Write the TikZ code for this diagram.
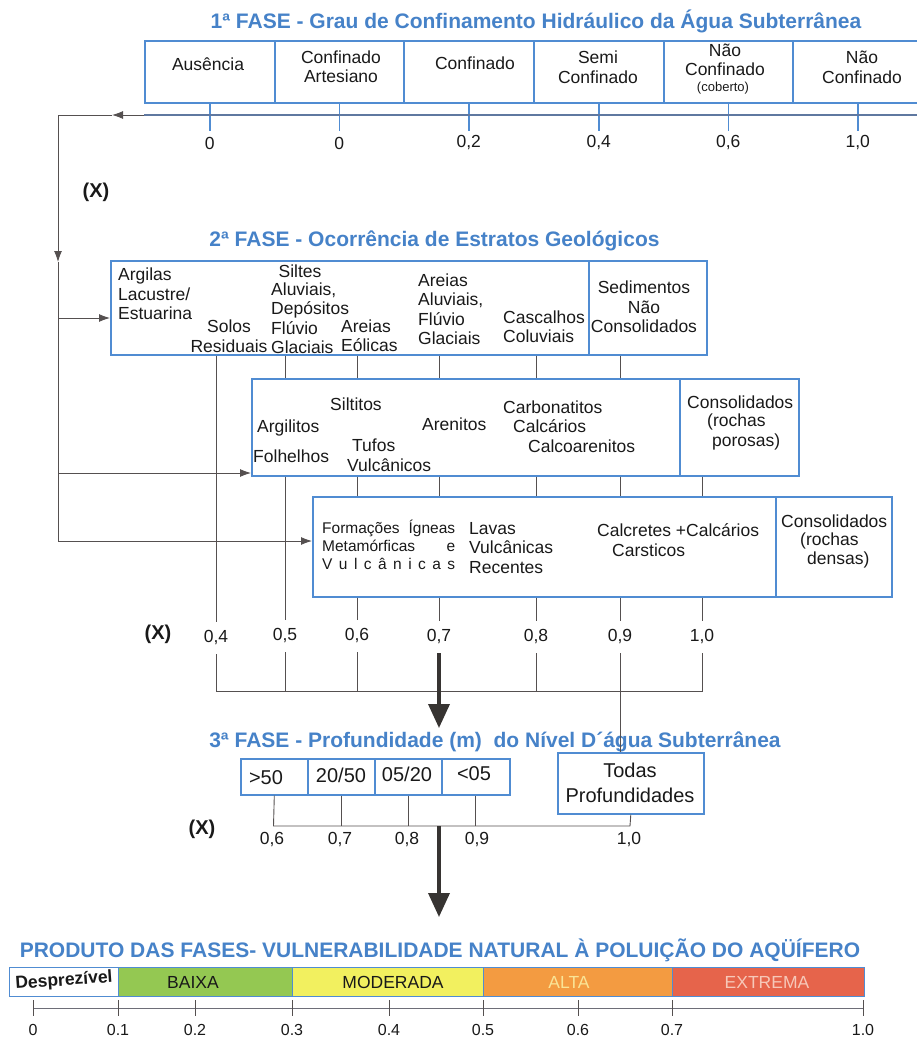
\documentclass[tikz,border=0pt]{standalone}
\usepackage{fontspec}
\setmainfont{Liberation Sans}
\usetikzlibrary{arrows.meta}
\definecolor{tblue}{RGB}{70,130,200}
\definecolor{bblue}{RGB}{80,140,210}
\definecolor{cgray}{RGB}{85,80,80}
\definecolor{dgray}{RGB}{55,52,50}
\definecolor{txtc}{RGB}{25,25,25}
\definecolor{gbaixa}{RGB}{148,200,82}
\definecolor{ymod}{RGB}{242,240,95}
\definecolor{oalta}{RGB}{243,155,65}
\definecolor{rext}{RGB}{230,100,75}
\definecolor{altat}{RGB}{250,228,150}
\definecolor{extt}{RGB}{246,200,185}
\definecolor{axisc}{RGB}{110,110,120}
\definecolor{hlinec}{RGB}{95,120,160}
\newcommand\ftitle{\fontsize{21}{24}\bfseries\selectfont}
\newcommand\fbody{\fontsize{17.5}{19.5}\selectfont}
\newcommand\fsmallb{\fontsize{13}{15}\selectfont}
\newcommand\fform{\fontsize{15.5}{18}\selectfont}
\newcommand\fdepth{\fontsize{20}{25}\selectfont}
\newcommand\fnum{\fontsize{17.5}{20}\selectfont}
\newcommand\faxis{\fontsize{16}{18}\selectfont}
\newcommand\fxlab{\fontsize{20}{22}\bfseries\selectfont}
\newcommand\fbar{\fontsize{17.5}{20}\selectfont}
\begin{document}
\begin{tikzpicture}[x=1pt,y=-1pt,
  every node/.style={inner sep=0pt, text=txtc},
  box/.style={draw=bblue, line width=1.6pt, inner sep=0pt, anchor=north west},
  barseg/.style={draw=bblue, line width=1.1pt, inner sep=0pt, anchor=north west, minimum height=29},
  conn/.style={draw=cgray, line width=0.9pt},
  tickone/.style={draw=bblue, line width=1.4pt},
  ttl/.style={font=\ftitle, text=tblue},
  body/.style={font=\fbody, align=center},
  lft/.style={font=\fbody, anchor=west, align=left},
  numone/.style={font=\fnum, minimum height=24},
  numtwo/.style={font=\fnum, minimum height=32},
  numthree/.style={font=\fnum},
  xlab/.style={font=\fxlab},
  bigarrow/.style={draw=dgray, line width=3.6pt, -{Triangle[length=24pt,width=21pt]}},
  smallarrow/.style={conn, -{Latex[length=11pt,width=8pt]}},
]
\useasboundingbox (0,0) rectangle (917,1039);

% ---------------- 1st phase ----------------
\node[ttl] (T1) at (536,21) {1ª FASE - Grau de Confinamento Hidráulico da Água Subterrânea};
\node[box, minimum width=130, minimum height=62] (c1) at (144,40) {};
\node[box, minimum width=129, minimum height=62] (c2) at (274,40) {};
\node[box, minimum width=130, minimum height=62] (c3) at (403,40) {};
\node[box, minimum width=130, minimum height=62] (c4) at (533,40) {};
\node[box, minimum width=129, minimum height=62] (c5) at (663,40) {};
\node[box, minimum width=130, minimum height=62] (c6) at (792,40) {};
\node[body] (a1) at (208,64) {Ausência};
\node[body] (a2) at (341,66.5) {Confinado\\Artesiano};
\node[body] (a3) at (475,63.5) {Confinado};
\node[body] (a4) at (598,67) {Semi\\Confinado};
\node[body] (a5) at (725,60) {Não\\Confinado};
\node[font=\fsmallb] (a5b) at (723,88) {(coberto)};
\node[body] (a6) at (862,67.5) {Não\\Confinado};

\node[numone] (n1) at (c1.center |- 0,143) {0};
\node[numone] (n2) at (c2.center |- 0,143) {0};
\node[numone] (n3) at (c3.center |- 0,143) {0,2};
\node[numone] (n4) at (c4.center |- 0,143) {0,4};
\node[numone] (n5) at (c5.center |- 0,143) {0,6};
\node[numone] (n6) at (c6.center |- 0,143) {1,0};
\foreach \c/\n in {c1/n1,c2/n2,c3/n3,c4/n4,c5/n5,c6/n6}
  \draw[tickone] (\c.south) -- (\n.north);

\coordinate (hR) at (922,115);
\coordinate (hL) at (144,115);
\coordinate (aL) at (112,115);
\coordinate (k0) at (58,115);
\coordinate (kD) at (58,262);
\coordinate (j1) at (58,318);
\coordinate (j2) at (58,473);
\coordinate (j3) at (58,541);
\draw[draw=hlinec, line width=1.1pt] (hR) -- (hL);
\draw[smallarrow] (hL) -- (aL);
\draw[conn] (aL) -- (k0);
\draw[smallarrow] (k0) -- (kD);
\draw[conn] (kD) -- (j3);

\node[xlab] (X1) at (96,192) {(X)};

% ---------------- 2nd phase ----------------
\node[ttl] (T2) at (434.5,241) {2ª FASE - Ocorrência de Estratos Geológicos};
\node[box, minimum width=478, minimum height=94] (b2a) at (110,260) {};
\node[box, minimum width=118, minimum height=94] (b2aS) at (588,260) {};
\node[box, minimum width=428, minimum height=97] (b2b) at (251,378) {};
\node[box, minimum width=119, minimum height=97] (b2bS) at (679,378) {};
\node[box, minimum width=463, minimum height=100] (b2c) at (312,496) {};
\node[box, minimum width=116, minimum height=100] (b2cS) at (775,496) {};

\draw[smallarrow] (j1) -- (j1 -| b2a.west);
\draw[smallarrow] (j2) -- (j2 -| b2b.west);
\draw[smallarrow] (j3) -- (j3 -| b2c.west);

% texts box 2a
\node[lft] (e1) at (118,294) {Argilas\\Lacustre/\\Estuarina};
\node[body] (e2) at (229,336) {Solos\\Residuais};
\node[body] (e3a) at (300,271) {Siltes};
\node[lft] (e3) at (271,318) {Aluviais,\\Depósitos\\Flúvio\\Glaciais};
\node[lft] (e4) at (341,335.5) {Areias\\Eólicas};
\node[lft] (e5) at (418,309) {Areias\\Aluviais,\\Flúvio\\Glaciais};
\node[lft] (e6) at (503,326.5) {Cascalhos\\Coluviais};
\node[body] (e7) at (644,307) {Sedimentos\\Não\\Consolidados};

% texts box 2b
\node[lft] (f1) at (330,404) {Siltitos};
\node[lft] (f2) at (257,428) {Argilitos};
\node[lft] (f3) at (253,456) {Folhelhos};
\node[lft] (f4) at (352,445) {Tufos};
\node[lft] (f5) at (347,465) {Vulcânicos};
\node[lft] (f6) at (422,424) {Arenitos};
\node[lft] (f7) at (503,407) {Carbonatitos};
\node[lft] (f8) at (513,426) {Calcários};
\node[lft] (f9) at (528,446) {Calcoarenitos};
\node[lft] (f10) at (687,402) {Consolidados};
\node[lft] (f11) at (707,422) {(rochas};
\node[lft] (f12) at (712,442) {porosas)};

% texts box 2c
\node[font=\fform, anchor=west, align=left] (g1) at (322,545)
  {\makebox[133pt][s]{Formações Ígneas}\\\makebox[133pt][s]{Metamórficas e}\\\makebox[133pt][s]{V u l c â n i c a s}};
\node[lft] (g2) at (469,548) {Lavas\\Vulcânicas\\Recentes};
\node[lft] (g3) at (597,530) {Calcretes +Calcários};
\node[lft] (g4) at (612,550) {Carsticos};
\node[lft] (g5) at (781,521) {Consolidados};
\node[lft] (g6) at (800,541) {(rochas};
\node[lft] (g7) at (807,560) {densas)};

% values 2nd phase
\node[xlab] (X2) at (158,634) {(X)};
\node[numtwo] (L04) at (216,638) {0,4};
\node[numtwo] (L05) at (285,636) {0,5};
\node[numtwo] (L06) at (357,636) {0,6};
\node[numtwo] (L07) at (439,637) {0,7};
\node[numtwo] (L08) at (536,637) {0,8};
\node[numtwo] (L09) at (620,637) {0,9};
\node[numtwo] (L10) at (702,637) {1,0};
\coordinate (hb1) at (216,691);
\coordinate (hb2) at (702,691);

\draw[conn] (L04 |- b2a.south) -- (L04.north);
\draw[conn] (L04.south) -- (hb1) -- (hb2) -- (L10.south);
\draw[conn] (L05 |- b2a.south) -- (L05 |- b2b.north);
\draw[conn] (L05 |- b2b.south) -- (L05.north);
\draw[conn] (L05.south) -- (L05 |- hb1);
\foreach \L in {L06,L07,L08,L09}{
  \draw[conn] (\L |- b2a.south) -- (\L |- b2b.north);
  \draw[conn] (\L |- b2b.south) -- (\L |- b2c.north);
  \draw[conn] (\L |- b2c.south) -- (\L.north);
}
\draw[conn] (L10 |- b2b.south) -- (L10 |- b2c.north);
\draw[conn] (L10 |- b2c.south) -- (L10.north);
\draw[conn] (L06.south) -- (L06 |- hb1);
\draw[conn] (L08.south) -- (L08 |- hb1);

% ---------------- 3rd phase ----------------
\coordinate (A1e) at (439,728);
\draw[bigarrow] (L07.south) -- (A1e);
\node[ttl] (T3) at (495,742) {3ª FASE - Profundidade (m)\ \ do Nível D´água Subterrânea};
\node[box, minimum width=67, minimum height=36] (d1) at (240,758) {};
\node[box, minimum width=67, minimum height=36] (d2) at (307,758) {};
\node[box, minimum width=67, minimum height=36] (d3) at (374,758) {};
\node[box, minimum width=68, minimum height=36] (d4) at (441,758) {};
\node[box, minimum width=146, minimum height=61] (b3T) at (557,752) {};
\node[font=\fdepth] (d1t) at (266,778) {>50};
\node[font=\fdepth] (d2t) at (341,775) {20/50};
\node[font=\fdepth] (d3t) at (407,774) {05/20};
\node[font=\fdepth] (d4t) at (474,774) {<05};
\node[font=\fdepth, align=center] (b3Tt) at (630,782.5) {Todas\\Profundidades};
\draw[conn] (L09.south) -- (L09 |- b3T.north);

\coordinate (h3a) at (273.5,826);
\coordinate (h3b) at (630,826);
\draw[conn] (d1.south) -- (h3a) -- (h3b) -- (b3T.south);
\draw[conn] (d2.south) -- (d2.south |- h3a);
\draw[conn] (d3.south) -- (d3.south |- h3a);
\draw[conn] (d4.south) -- (d4.south |- h3a);
\node[xlab] (X3) at (202,829) {(X)};
\node[numthree] (M06) at (272,839) {0,6};
\node[numthree] (M07) at (340,839) {0,7};
\node[numthree] (M08) at (407,839) {0,8};
\node[numthree] (M09) at (477,839) {0,9};
\node[numthree] (M10) at (629,839) {1,0};

\coordinate (A2s) at (439,826);
\coordinate (A2e) at (439,917);
\draw[bigarrow] (A2s) -- (A2e);

% ---------------- product ----------------
\node[ttl] (T4) at (440,950) {PRODUTO DAS FASES- VULNERABILIDADE NATURAL À POLUIÇÃO DO AQÜÍFERO};
\node[barseg, fill=white, minimum width=109] (s0) at (9,967) {};
\node[barseg, fill=gbaixa, minimum width=174] (s1) at (118,967) {};
\node[barseg, fill=ymod, minimum width=191] (s2) at (292,967) {};
\node[barseg, fill=oalta, minimum width=189] (s3) at (483,967) {};
\node[barseg, fill=rext, minimum width=192] (s4) at (672,967) {};
\node[font=\fbar\bfseries, rotate=4] (s0t) at (64,981) {Desprezível};
\node[font=\fbar] (s1t) at (193,982) {BAIXA};
\node[font=\fbar] (s2t) at (393,982) {MODERADA};
\node[font=\fbar, text=altat] (s3t) at (569,982) {ALTA};
\node[font=\fbar, text=extt] (s4t) at (767,982) {EXTREMA};

\coordinate (ax0) at (33,1008);
\coordinate (ax1) at (863,1008);
\draw[draw=axisc, line width=0.9pt] (ax0) -- (ax1);
\foreach \xx/\tt/\nm in {33/0/v0,118/0.1/v1,195/0.2/v2,292/0.3/v3,389/0.4/v4,483/0.5/v5,578/0.6/v6,672/0.7/v7,863/1.0/v8}{
  \node[font=\faxis] (\nm) at (\xx,1030) {\tt};
  \draw[conn] (\xx,1000) -- (\xx,1016);
}
\end{tikzpicture}
\end{document}
